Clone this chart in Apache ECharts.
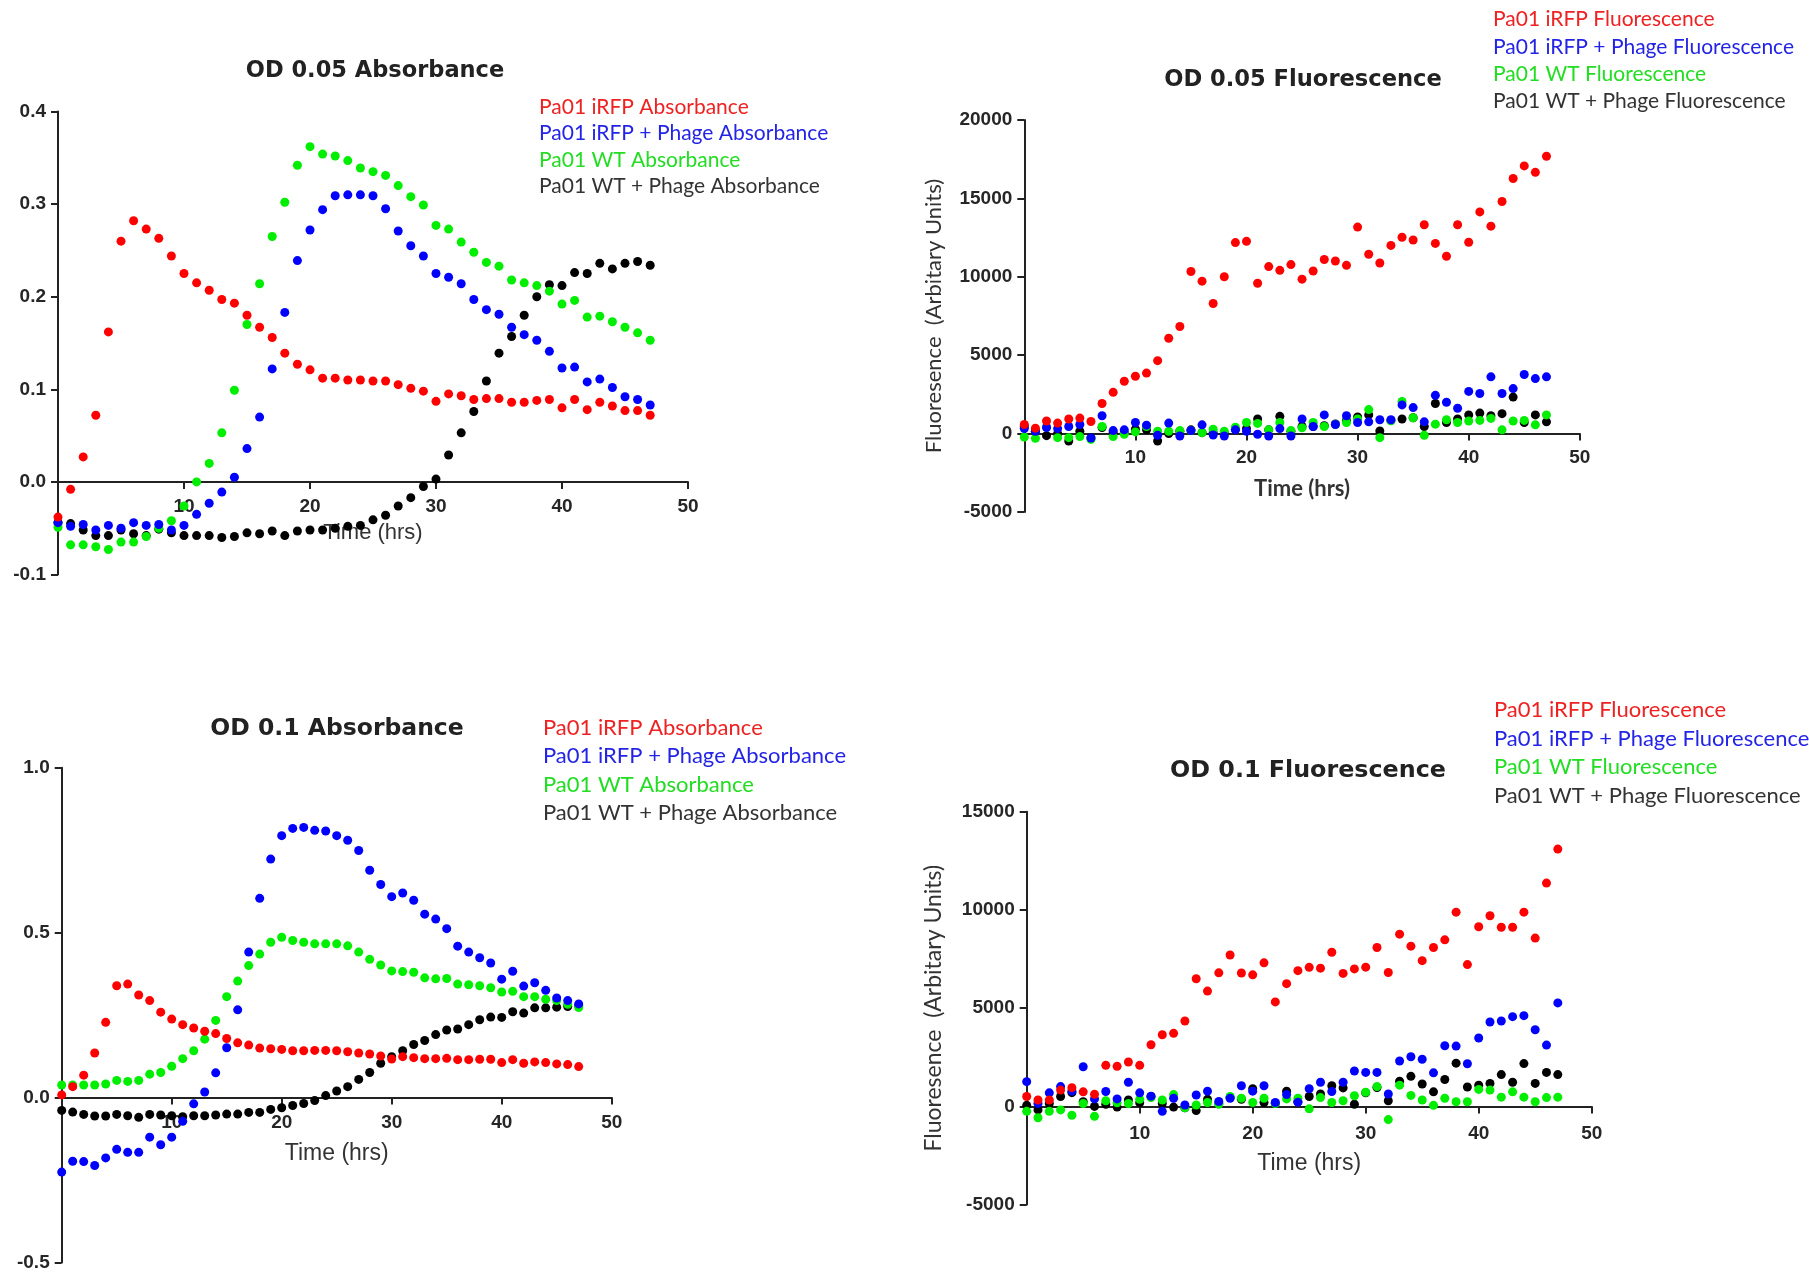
<!DOCTYPE html>
<html>
<head>
<meta charset="utf-8">
<script src="https://cdn.jsdelivr.net/npm/echarts@6/dist/echarts.min.js"></script>
<style>
  html, body { margin: 0; padding: 0; background: #ffffff; }
  #chart { width: 1809px; height: 1273px; }
</style>
</head>
<body>
<div id="chart"></div>
<script>
// Sampling times (hours)
const hours = [0,1,2,3,4,5,6,7,8,9,10,11,12,13,14,15,16,17,18,19,20,21,22,23,24,25,26,27,28,29,30,31,32,33,34,35,36,37,38,39,40,41,42,43,44,45,46,47];

// Legend / series names
const absNames = ['Pa01 iRFP Absorbance', 'Pa01 iRFP + Phage Absorbance', 'Pa01 WT Absorbance', 'Pa01 WT + Phage Absorbance'];
const fluNames = ['Pa01 iRFP Fluorescence', 'Pa01 iRFP + Phage Fluorescence', 'Pa01 WT Fluorescence', 'Pa01 WT + Phage Fluorescence'];

// OD 0.05 – absorbance
const od005AbsIrfp = [-0.038,-0.008,0.027,0.072,0.162,0.260,0.282,0.273,0.263,0.244,
  0.225,0.215,0.207,0.197,0.193,0.180,0.167,0.156,0.139,0.127,
  0.121,0.112,0.112,0.110,0.110,0.109,0.109,0.105,0.101,0.098,
  0.087,0.095,0.093,0.089,0.090,0.090,0.086,0.086,0.088,0.089,
  0.080,0.089,0.078,0.086,0.082,0.077,0.077,0.072];
const od005AbsIrfpPhage = [-0.044,-0.048,-0.046,-0.052,-0.047,-0.050,-0.044,-0.047,-0.046,-0.052,
  -0.047,-0.035,-0.023,-0.011,0.005,0.036,0.070,0.122,0.183,0.239,
  0.272,0.294,0.309,0.310,0.310,0.309,0.295,0.271,0.255,0.244,
  0.225,0.221,0.214,0.197,0.186,0.181,0.167,0.159,0.153,0.141,
  0.123,0.124,0.108,0.111,0.102,0.092,0.089,0.083];
const od005AbsWt = [-0.049,-0.068,-0.068,-0.070,-0.073,-0.065,-0.065,-0.059,-0.050,-0.042,
  -0.026,0.000,0.020,0.053,0.099,0.170,0.214,0.265,0.302,0.342,
  0.362,0.354,0.352,0.347,0.339,0.335,0.331,0.320,0.308,0.299,
  0.277,0.273,0.259,0.248,0.237,0.233,0.218,0.215,0.212,0.206,
  0.192,0.196,0.178,0.179,0.173,0.167,0.161,0.153];
const od005AbsWtPhage = [-0.044,-0.045,-0.052,-0.058,-0.058,-0.052,-0.056,-0.058,-0.051,-0.055,
  -0.058,-0.058,-0.058,-0.060,-0.059,-0.055,-0.056,-0.053,-0.058,-0.053,
  -0.052,-0.052,-0.050,-0.048,-0.047,-0.041,-0.036,-0.026,-0.017,-0.005,
  0.003,0.029,0.053,0.076,0.109,0.139,0.157,0.180,0.200,0.213,
  0.212,0.226,0.225,0.236,0.230,0.236,0.238,0.234];

// OD 0.05 – fluorescence
const od005FluIrfp = [580,345,800,670,930,990,775,1920,2630,3340,
  3660,3860,4650,6080,6830,10340,9720,8300,10000,12180,
  12260,9590,10650,10410,10780,9850,10370,11100,11010,10730,
  13170,11440,10880,12000,12520,12350,13320,12130,11310,13320,
  12200,14140,13230,14800,16270,17070,16660,17690];
const od005FluIrfpPhage = [320,150,390,320,450,580,-280,1140,190,240,
  710,540,-110,670,-150,190,560,-90,-150,240,
  150,-40,-150,320,-150,930,450,1190,580,1140,
  710,750,880,880,1830,1660,750,2440,2000,1620,
  2690,2560,3620,2560,2870,3770,3510,3620];
const od005FluWt = [-220,-300,400,-260,-260,-190,-370,450,-190,-40,
  110,450,150,150,190,190,60,280,150,410,
  710,650,240,710,190,370,710,450,580,710,
  930,1530,-260,820,2050,1010,-110,600,880,710,
  800,840,970,240,800,840,560,1190];
const od005FluWtPhage = [450,150,-130,0,-470,150,-280,390,60,60,
  280,240,-470,0,150,240,60,60,0,280,
  320,930,240,1100,150,450,450,500,620,840,
  1060,1190,170,840,930,1010,450,1920,710,930,
  1190,1310,1140,1270,2330,710,1190,750];

// OD 0.1 – absorbance
const od01AbsIrfp = [0.008,0.033,0.068,0.135,0.228,0.339,0.344,0.311,0.294,0.259,
  0.238,0.221,0.211,0.201,0.194,0.179,0.166,0.159,0.150,0.148,
  0.146,0.142,0.142,0.143,0.143,0.142,0.139,0.135,0.132,0.126,
  0.117,0.124,0.121,0.118,0.118,0.119,0.115,0.115,0.116,0.116,
  0.106,0.115,0.104,0.108,0.106,0.102,0.100,0.094];
const od01AbsIrfpPhage = [-0.226,-0.193,-0.194,-0.206,-0.183,-0.157,-0.166,-0.166,-0.120,-0.143,
  -0.120,-0.072,-0.019,0.017,0.075,0.151,0.266,0.441,0.604,0.723,
  0.794,0.816,0.819,0.810,0.808,0.794,0.780,0.749,0.689,0.646,
  0.609,0.620,0.598,0.556,0.541,0.512,0.459,0.441,0.424,0.408,
  0.359,0.383,0.338,0.348,0.325,0.302,0.294,0.284];
const od01AbsWt = [0.038,0.038,0.038,0.038,0.041,0.052,0.049,0.052,0.071,0.076,
  0.095,0.118,0.142,0.177,0.234,0.306,0.353,0.400,0.435,0.471,
  0.486,0.476,0.471,0.466,0.466,0.466,0.460,0.441,0.419,0.402,
  0.384,0.382,0.380,0.363,0.360,0.361,0.344,0.342,0.339,0.333,
  0.320,0.322,0.306,0.306,0.298,0.294,0.283,0.273];
const od01AbsWtPhage = [-0.039,-0.044,-0.051,-0.056,-0.056,-0.051,-0.055,-0.060,-0.051,-0.053,
  -0.055,-0.058,-0.055,-0.055,-0.053,-0.050,-0.050,-0.045,-0.045,-0.036,
  -0.031,-0.024,-0.018,-0.009,0.006,0.020,0.033,0.055,0.076,0.104,
  0.124,0.142,0.161,0.173,0.191,0.205,0.208,0.221,0.236,0.244,
  0.243,0.260,0.256,0.272,0.272,0.274,0.276,0.278];

// OD 0.1 – fluorescence
const od01FluIrfp = [505,325,325,830,955,740,615,2090,2040,2260,
  2090,3140,3650,3720,4350,6500,5870,6800,7710,6790,
  6700,7310,5320,6250,6910,7080,7040,7850,6770,7000,
  7090,8090,6820,8770,8160,7420,8090,8480,9890,7220,
  9150,9710,9120,9120,9890,8570,11370,13100];
const od01FluIrfpPhage = [1260,145,690,1010,775,2020,380,760,380,1230,
  690,520,-250,415,70,580,775,250,415,1050,
  775,1050,200,600,215,900,1230,760,1230,1800,
  1730,1730,630,2310,2530,2400,1710,3090,3070,2170,
  3480,4300,4350,4570,4620,3900,3120,5270];
const od01FluWt = [-250,-580,-250,-180,-450,145,-505,290,180,145,
  360,450,325,600,-70,70,200,110,505,415,
  200,415,145,380,415,-125,450,200,290,540,
  720,1010,-670,1080,560,325,55,415,235,235,
  865,830,470,740,470,235,450,470];
const od01FluWtPhage = [55,-180,145,505,700,235,0,110,-35,325,
  180,505,145,-35,-70,-215,360,145,450,360,
  900,200,145,775,235,505,630,1050,940,110,
  690,960,290,1280,1530,1140,740,1370,2200,990,
  1080,1170,1620,1230,2180,1170,1730,1620];

// Axis ranges and tick steps
const absTop = { min: -0.1, max: 0.4, interval: 0.1 };
const fluTop = { min: -5000, max: 20000, interval: 5000 };
const absBottom = { min: -0.5, max: 1.0, interval: 0.5 };
const fluBottom = { min: -5000, max: 15000, interval: 5000 };
const timeAxis = { min: 0, max: 50, interval: 10 };

const markerColors = ['#ff0000', '#0000ff', '#00ee00', '#000000'];
const legendColors = ['#ee2222', '#2424e6', '#22dd22', '#333333'];

const panels = [
  { title: 'OD 0.05 Absorbance', titleX: 375, titleTop: 59.5, titleSize: 22.5,
    grid: { left: 58, top: 111.5, width: 630, height: 463 },
    range: absTop, decimals: 1, names: absNames,
    values: [od005AbsIrfp, od005AbsIrfpPhage, od005AbsWt, od005AbsWtPhage],
    legend: { left: 534, top: 93.5, lineHeight: 26.6, size: 21 },
    xLabelMargin: 15,
    xName: { gap: 40, font: 'Liberation Sans', size: 22, weight: 'normal' },
    yName: null },
  { title: 'OD 0.05 Fluorescence', titleX: 1303, titleTop: 68.8, titleSize: 22.6,
    grid: { left: 1024.3, top: 120, width: 555.5, height: 392 },
    range: fluTop, decimals: 0, names: fluNames,
    values: [od005FluIrfp, od005FluIrfpPhage, od005FluWt, od005FluWtPhage],
    legend: { left: 1488, top: 6, lineHeight: 27.3, size: 21 },
    xLabelMargin: 15,
    xName: { gap: 44, font: 'Lato', size: 22, weight: 'bold' },
    yName: { gap: 79, size: 22 } },
  { title: 'OD 0.1 Absorbance', titleX: 337, titleTop: 716.5, titleSize: 23.5,
    grid: { left: 61.7, top: 767.7, width: 550, height: 494.8 },
    range: absBottom, decimals: 1, names: absNames,
    values: [od01AbsIrfp, od01AbsIrfpPhage, od01AbsWt, od01AbsWtPhage],
    legend: { left: 538, top: 713.5, lineHeight: 28.5, size: 22 },
    xLabelMargin: 16,
    xName: { gap: 45, font: 'Liberation Sans', size: 23, weight: 'normal' },
    yName: null },
  { title: 'OD 0.1 Fluorescence', titleX: 1308, titleTop: 759.2, titleSize: 23.8,
    grid: { left: 1026.7, top: 811.8, width: 565, height: 392.8 },
    range: fluBottom, decimals: 0, names: fluNames,
    values: [od01FluIrfp, od01FluIrfpPhage, od01FluWt, od01FluWtPhage],
    legend: { left: 1489, top: 696, lineHeight: 28.5, size: 22 },
    xLabelMargin: 18,
    xName: { gap: 46, font: 'Liberation Sans', size: 23, weight: 'normal' },
    yName: { gap: 82, size: 23 } }
];

const axisLineStyle = { color: '#222222', width: 2 };
const tickLabelStyle = { color: '#262626', fontFamily: 'Liberation Sans', fontWeight: 'bold', fontSize: 19 };

const option = {
  backgroundColor: '#ffffff',
  animation: false,
  title: [], legend: [], grid: [], xAxis: [], yAxis: [], series: []
};

panels.forEach((p, i) => {
  option.title.push({
    text: p.title, left: p.titleX, top: p.titleTop, textAlign: 'center', padding: 0,
    textStyle: { fontFamily: 'DejaVu Sans', fontWeight: 'bold', fontSize: p.titleSize, color: '#222222' }
  });
  option.legend.push({
    orient: 'vertical', left: p.legend.left, top: p.legend.top, padding: 0,
    itemGap: 0, itemWidth: 0, itemHeight: 1, icon: 'rect', selectedMode: false,
    data: p.names.map((n, k) => ({
      name: n, itemStyle: { opacity: 0 },
      textStyle: { color: legendColors[k], fontFamily: 'Lato', fontSize: p.legend.size, lineHeight: p.legend.lineHeight }
    }))
  });
  option.grid.push(Object.assign({ outerBoundsMode: 'none', containLabel: false }, p.grid));
  // the time axis (line, ticks and labels together) sits on the y = 0 line of its panel
  const zeroShift = (0 - p.range.min) / (p.range.max - p.range.min) * p.grid.height;
  option.xAxis.push({
    gridIndex: i, type: 'value', min: timeAxis.min, max: timeAxis.max, interval: timeAxis.interval,
    position: 'bottom', offset: -zeroShift,
    name: 'Time (hrs)', nameLocation: 'middle', nameGap: p.xName.gap,
    nameTextStyle: { fontFamily: p.xName.font, fontSize: p.xName.size, fontWeight: p.xName.weight, color: '#333333' },
    axisLine: { show: true, onZero: false, lineStyle: axisLineStyle },
    axisTick: { show: true, length: 7, lineStyle: axisLineStyle },
    axisLabel: Object.assign({ margin: p.xLabelMargin, formatter: v => (v === 0 ? '' : String(v)) }, tickLabelStyle),
    splitLine: { show: false }
  });
  const yAxis = {
    gridIndex: i, type: 'value', min: p.range.min, max: p.range.max, interval: p.range.interval,
    axisLine: { show: true, onZero: false, lineStyle: axisLineStyle },
    axisTick: { show: true, length: 7, lineStyle: axisLineStyle },
    axisLabel: Object.assign({ margin: 12, formatter: v => v.toFixed(p.decimals) }, tickLabelStyle),
    splitLine: { show: false }
  };
  if (p.yName) {
    Object.assign(yAxis, {
      name: 'Fluoresence  (Arbitary Units)', nameLocation: 'middle', nameRotate: 90, nameGap: p.yName.gap,
      nameTextStyle: { fontFamily: 'Lato', fontSize: p.yName.size, color: '#333333' }
    });
  }
  option.yAxis.push(yAxis);
  // draw WT + Phage first so the iRFP series sit on top
  [3, 2, 1, 0].forEach(k => {
    option.series.push({
      type: 'scatter', name: p.names[k], xAxisIndex: i, yAxisIndex: i,
      symbol: 'circle', symbolSize: 9,
      itemStyle: { color: markerColors[k], opacity: 1 },
      emphasis: { disabled: true },
      data: hours.map((h, j) => [h, p.values[k][j]])
    });
  });
});

const chart = echarts.init(document.getElementById('chart'), null, { renderer: 'canvas' });
chart.setOption(option);
</script>
</body>
</html>
